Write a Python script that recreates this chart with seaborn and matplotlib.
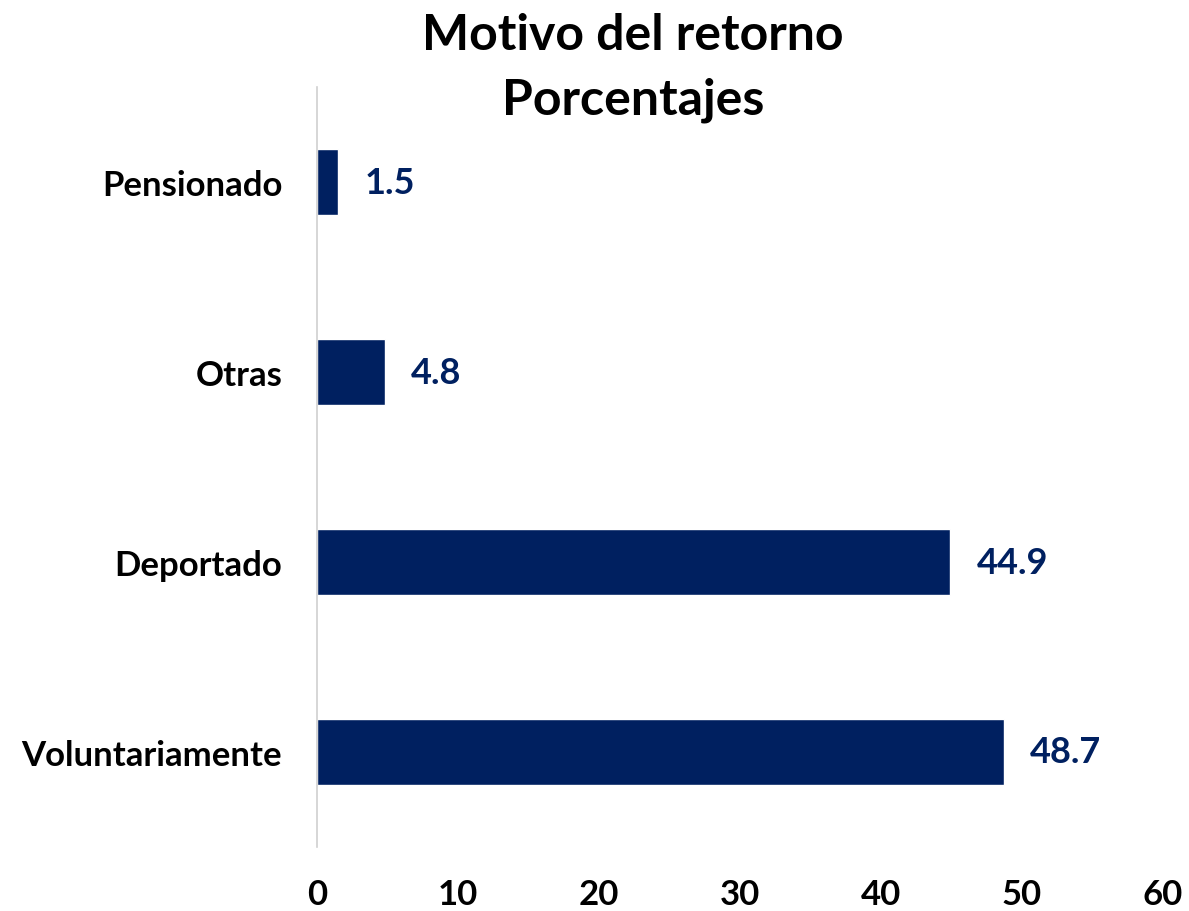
import matplotlib
matplotlib.use("Agg")
import matplotlib.pyplot as plt
import seaborn as sns
import pandas as pd

categories = ["Pensionado", "Otras", "Deportado", "Voluntariamente"]
values = [1.5, 4.8, 44.9, 48.7]
xticks = [0, 10, 20, 30, 40, 50, 60]

sns.set_theme(style="white")
plt.rcParams['font.family'] = ['Lato', 'DejaVu Sans']

navy = "#002060"
df = pd.DataFrame({"cat": categories, "val": values})

fig = plt.figure(figsize=(11.89, 9.12), dpi=100)
ax = fig.add_axes([317/1189, 1-848/912, (1163-317)/1189, (848-88)/912])
sns.barplot(data=df, y="cat", x="val", orient="h", color=navy, width=0.35,
            saturation=1, ax=ax)
ax.set_xlim(0, 60)
ax.set_ylim(3.5, -0.5)
ax.set_xticks(xticks)
ax.set_xticklabels([str(t) for t in xticks], fontsize=25, fontweight="bold", color="black")
ax.set_yticks(range(len(categories)))
ax.set_yticklabels(categories, fontsize=25, fontweight="bold", color="black")
ax.tick_params(axis="x", length=0, pad=22)
ax.tick_params(axis="y", length=0, pad=25)
ax.set_xlabel("")
ax.set_ylabel("")
for s in ["top", "right", "bottom"]:
    ax.spines[s].set_visible(False)
ax.spines["left"].set_color("#d0d0d0")
ax.spines["left"].set_linewidth(1.2)

for i, v in enumerate(values):
    ax.annotate(f"{v:.1f}", xy=(v, i), xytext=(19, 0), textcoords="offset points",
                va="center", ha="left", fontsize=26, fontweight="bold", color=navy)

fig.text(633/1189, 1-35/912, "Motivo del retorno", ha="center", va="center",
         fontsize=36, fontweight="bold", color="black")
fig.text(633/1189, 1-100/912, "Porcentajes", ha="center", va="center",
         fontsize=36, fontweight="bold", color="black")

fig.savefig("out.png", dpi=100, facecolor="white")
